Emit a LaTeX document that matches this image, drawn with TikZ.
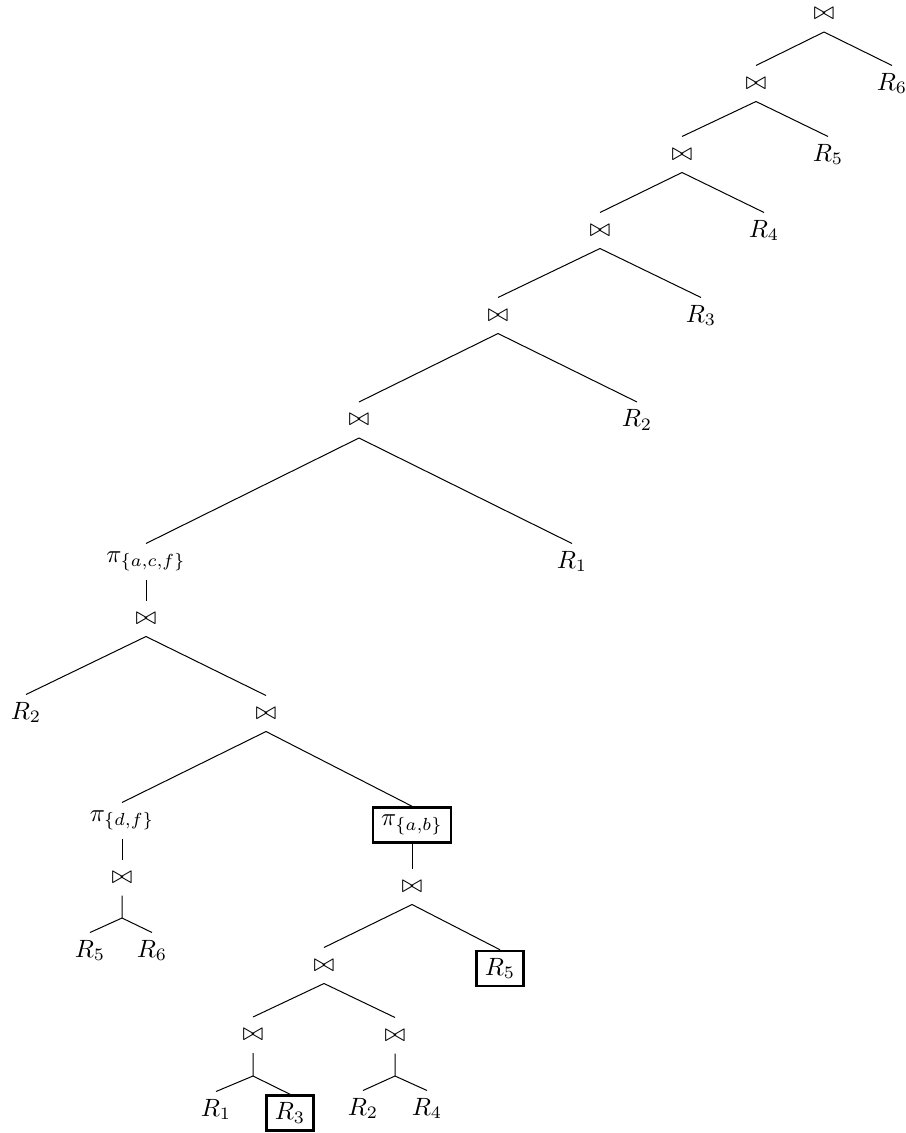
\documentclass[tikz,border=0pt]{standalone}
\usepackage{amsmath}
\usepackage{amssymb}
\usepackage{tikz}
\newcommand{\projection}[1]{\ensuremath{\pi_{\{#1\}}}}
\newcommand{\treeUnit}[0]{0.4pt}

\begin{document}
\begin{tikzpicture}[x=\treeUnit, y=-\treeUnit]
  \tikzset{every node/.style={inner xsep=3.33pt, inner ysep=2pt, minimum height=14pt},
           chosen/.style={draw, line width=1pt}}
  \useasboundingbox (0,0) rectangle (906,1133);
  % left-deep join spine
  \node (j1) at (824,14) {$\bowtie$};
  \node (j2) at (756,83.5) {$\bowtie$};
  \node (s6) at (892,83.5) {$R_6$};
  \node (j3) at (682,154.5) {$\bowtie$};
  \node (s5) at (828,154.5) {$R_5$};
  \node (j4) at (600,230.5) {$\bowtie$};
  \node (s4) at (764,230.5) {$R_4$};
  \node (j5) at (498,315.5) {$\bowtie$};
  \node (s3) at (701,315.5) {$R_3$};
  \node (j6) at (359,420) {$\bowtie$};
  \node (s2) at (637,420) {$R_2$};
  \node (pa) at (146,561.5) {\projection{a,c,f}};
  \node (s1) at (572,561.5) {$R_1$};
  % subtree under the projection
  \node (j7) at (146,618.5) {$\bowtie$};
  \node (b2) at (26,712.5) {$R_2$};
  \node (j8) at (266,713.5) {$\bowtie$};
  \node (pd) at (122,820.5) {\projection{d,f}};
  \node[chosen] (pb) at (412,825) {\projection{a,b}};
  \node (j9) at (122,877.5) {$\bowtie$};
  \coordinate (fk1) at (122,918);
  \node (c5) at (90,950.5) {$R_5$};
  \node (c6) at (152,950.5) {$R_6$};
  \node (j10) at (412,886.5) {$\bowtie$};
  \node (j11) at (324,965.5) {$\bowtie$};
  \node[chosen] (d5) at (500,968.5) {$R_5$};
  \node (j12) at (253,1035) {$\bowtie$};
  \node (j13) at (395,1035.5) {$\bowtie$};
  \coordinate (fk2) at (253,1076);
  \coordinate (fk3) at (395,1076);
  \node (e1) at (216,1109.5) {$R_1$};
  \node[chosen] (e3) at (290,1113) {$R_3$};
  \node (e2) at (363,1108.5) {$R_2$};
  \node (e4) at (427,1108.5) {$R_4$};
  % edges
  \foreach \p/\c in {j1/j2, j1/s6, j2/j3, j2/s5, j3/j4, j3/s4, j4/j5, j4/s3,
                     j5/j6, j5/s2, j6/pa, j6/s1, pa/j7, j7/b2, j7/j8, j8/pd, j8/pb,
                     pd/j9, pb/j10, j10/j11, j10/d5, j11/j12, j11/j13}
    \draw (\p.south) -- (\c.north);
  \draw (j9.south) -- (fk1) (fk1) -- (c5.north) (fk1) -- (c6.north);
  \draw (j12.south) -- (fk2) (fk2) -- (e1.north) (fk2) -- (e3.north);
  \draw (j13.south) -- (fk3) (fk3) -- (e2.north) (fk3) -- (e4.north);
\end{tikzpicture}
\end{document}
